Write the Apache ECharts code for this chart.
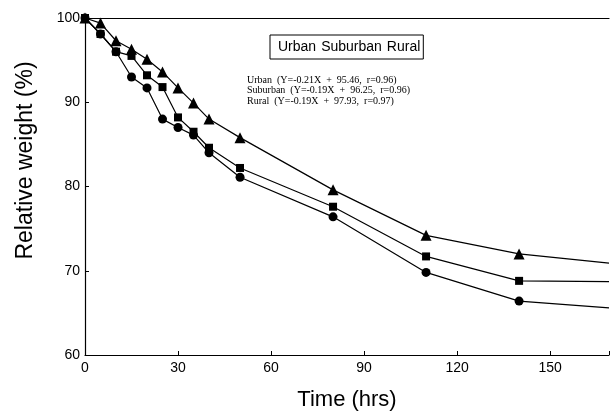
<!DOCTYPE html>
<html>
<head>
<meta charset="utf-8">
<script src="https://cdn.jsdelivr.net/npm/echarts@6/dist/echarts.min.js"></script>
<style>html,body{margin:0;padding:0;background:#fff;}#c{width:612px;height:416px;}</style>
</head>
<body>
<div id="c"></div>
<script>
const times = [0, 5, 10, 15, 20, 25, 30, 35, 40, 50, 80, 110, 140, 169];
const urban = [100, 98.1, 96.0, 93.0, 91.7, 88.0, 87.0, 86.1, 84.0, 81.1, 76.4, 69.8, 66.4, 65.6];
const suburban = [100, 98.1, 96.0, 95.5, 93.2, 91.8, 88.2, 86.5, 84.6, 82.2, 77.6, 71.7, 68.8, 68.7];
const rural = [100, 99.4, 97.3, 96.3, 95.1, 93.6, 91.7, 89.9, 88.0, 85.8, 79.6, 74.2, 72.0, 70.9];
const seriesNames = ['Urban', 'Suburban', 'Rural'];
const equations = [
  'Urban  (Y=-0.21X  +  95.46,  r=0.96)',
  'Suburban  (Y=-0.19X  +  96.25,  r=0.96)',
  'Rural  (Y=-0.19X  +  97.93,  r=0.97)'
];
const xTicks = [0, 30, 60, 90, 120, 150];
const yTicks = [60, 70, 80, 90, 100];

function pts(vals) {
  return times.map((t, i) => {
    const item = { value: [t, vals[i]] };
    if (i === times.length - 1) item.symbol = 'none';
    return item;
  });
}
const lineStyle = { color: '#000', width: 1.2 };
const itemStyle = { color: '#000' };
const chart = echarts.init(document.getElementById('c'), null, { renderer: 'canvas' });
chart.setOption({
  animation: false,
  backgroundColor: '#fff',
  grid: { left: 85, top: 18, right: 0, bottom: 58 },
  legend: {
    data: seriesNames,
    left: 270, top: 35,
    icon: 'none', itemWidth: 0, itemHeight: 10, itemGap: 0,
    padding: [5, 3, 5, 3],
    borderColor: '#000', borderWidth: 1,
    textStyle: { fontFamily: 'Liberation Sans', fontSize: 14, color: '#000' },
    selectedMode: false
  },
  xAxis: [{
    type: 'value', min: 0, max: 169, interval: 30,
    name: 'Time (hrs)', nameLocation: 'middle', nameGap: 34,
    nameTextStyle: { fontFamily: 'Liberation Sans', fontSize: 22, color: '#000' },
    axisLine: { lineStyle: { color: '#000', width: 1.2 } },
    axisTick: { inside: true, length: 4, lineStyle: { color: '#000' } },
    axisLabel: { fontFamily: 'Liberation Sans', fontSize: 14, color: '#000', margin: 6,
      formatter: v => xTicks.includes(v) ? String(v) : '' },
    splitLine: { show: false }
  }, {
    type: 'value', position: 'top', min: 0, max: 169,
    axisLine: { show: true, lineStyle: { color: '#000', width: 1.2 } },
    axisTick: { show: false }, axisLabel: { show: false }, splitLine: { show: false }
  }],
  yAxis: {
    type: 'value', min: 60, max: 100, interval: 10,
    name: 'Relative weight (%)', nameLocation: 'middle', nameGap: 48,
    nameTextStyle: { fontFamily: 'Liberation Sans', fontSize: 23, color: '#000', padding: [0, 0, 0, 52] },
    axisLine: { lineStyle: { color: '#000', width: 1.2 } },
    axisTick: { inside: true, length: 4, lineStyle: { color: '#000' } },
    axisLabel: { fontFamily: 'Liberation Sans', fontSize: 14, color: '#000', margin: 5,
      formatter: v => yTicks.includes(v) ? String(v) : '' },
    splitLine: { show: false }
  },
  graphic: [{
    type: 'text', left: 247, top: 75,
    style: { text: equations.join('\n'), font: '10px "Liberation Serif"', fill: '#000', lineHeight: 10.5 }
  }],
  series: [
    { name: 'Urban', type: 'line', data: pts(urban), symbol: 'circle', symbolSize: 9, lineStyle, itemStyle, z: 2 },
    { name: 'Suburban', type: 'line', data: pts(suburban), symbol: 'rect', symbolSize: 8, lineStyle, itemStyle, z: 3 },
    { name: 'Rural', type: 'line', data: pts(rural), symbol: 'triangle', symbolSize: 11, lineStyle, itemStyle, z: 4 }
  ]
});
</script>
</body>
</html>
